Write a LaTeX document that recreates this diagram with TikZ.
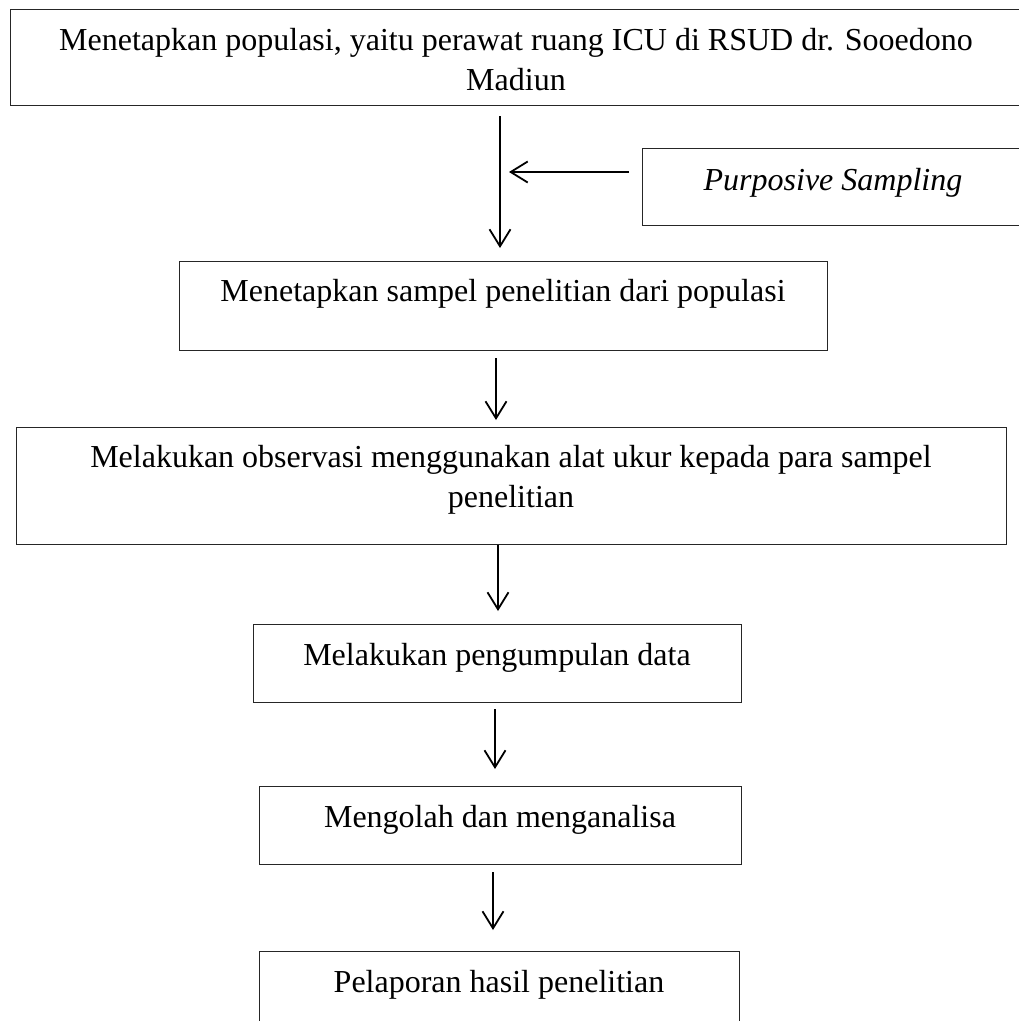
\documentclass[tikz,border=0pt]{standalone}
\usepackage{fontspec}
\setmainfont{Liberation Serif}
\usetikzlibrary{arrows.meta}
\tikzset{
  boxnode/.style={draw=black!85, line width=1.3pt, rectangle, inner sep=0pt, anchor=north west},
  txt/.style={anchor=north, inner sep=0pt, align=center, font=\fontsize{32}{40}\selectfont},
  arr/.style={line width=1.8pt, -{Straight Barb[length=17pt,width=21pt,line width=1.8pt]}}
}
\begin{document}
\begin{tikzpicture}[x=1pt,y=-1pt]
\useasboundingbox (0,0) rectangle (1019,1021);
\clip (0,0) rectangle (1019,1021);
\fill[white] (0,0) rectangle (1019,1021);
% boxes
\node[boxnode, minimum width=1030pt, minimum height=96pt] (b1) at (10,9) {};
\node[boxnode, minimum width=400pt, minimum height=77pt] (bp) at (642,148) {};
\node[boxnode, minimum width=648pt, minimum height=89pt] (b2) at (179,261) {};
\node[boxnode, minimum width=990pt, minimum height=117pt] (b3) at (16,427) {};
\node[boxnode, minimum width=488pt, minimum height=78pt] (b4) at (253,624) {};
\node[boxnode, minimum width=482pt, minimum height=78pt] (b5) at (259,786) {};
\node[boxnode, minimum width=480pt, minimum height=100pt] (b6) at (259,951) {};
% texts (baseline - 28)
\node[txt] (t1) at (516,22) {\strut Menetapkan populasi, yaitu perawat ruang ICU di RSUD dr. Sooedono\\\strut Madiun};
\node[txt] (tp) at (833,162) {\strut\itshape Purposive Sampling};
\node[txt] (t2) at (503,273) {\strut Menetapkan sampel penelitian dari populasi};
\node[txt] (t3) at (511,439) {\strut Melakukan observasi menggunakan alat ukur kepada para sampel\\\strut penelitian};
\node[txt] (t4) at (497,637) {\strut Melakukan pengumpulan data};
\node[txt] (t5) at (500,799) {\strut Mengolah dan menganalisa};
\node[txt] (t6) at (499,964) {\strut Pelaporan hasil penelitian};
% arrow ends
\coordinate (a1s) at (500,116); \coordinate (a1e) at (500,248);
\coordinate (a2s) at (629,172); \coordinate (a2e) at (509,172);
\coordinate (a3s) at (496,358); \coordinate (a3e) at (496,420);
\coordinate (a4s) at (498,545); \coordinate (a4e) at (498,611);
\coordinate (a5s) at (495,709); \coordinate (a5e) at (495,769);
\coordinate (a6s) at (493,872); \coordinate (a6e) at (493,930);
\draw[arr] (a1s) -- (a1e);
\draw[arr] (a2s) -- (a2e);
\draw[arr] (a3s) -- (a3e);
\draw[arr] (a4s) -- (a4e);
\draw[arr] (a5s) -- (a5e);
\draw[arr] (a6s) -- (a6e);
\end{tikzpicture}
\end{document}
